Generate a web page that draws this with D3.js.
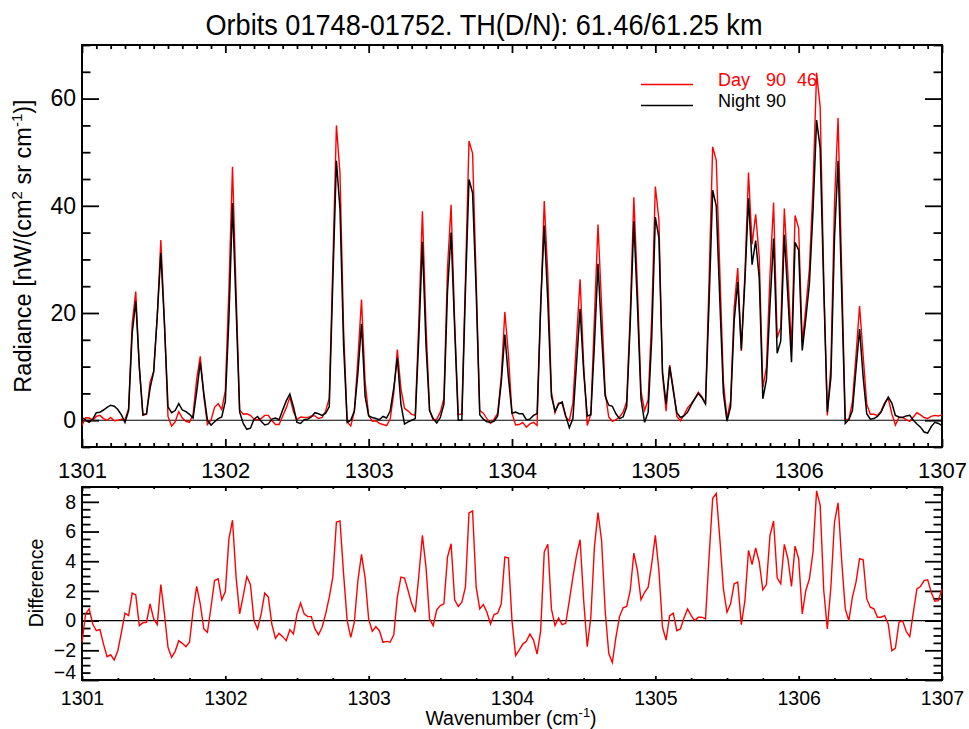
<!DOCTYPE html>
<html>
<head>
<meta charset="utf-8">
<script src="https://cdn.jsdelivr.net/npm/d3@7"></script>
<style>
  body { margin: 0; background: #fff; }
  svg text { font-family: "Liberation Sans", Arial, Helvetica, sans-serif; }
</style>
</head>
<body>
<svg id="chart" width="969" height="729"></svg>
<script>
// Spectral grid: samples every 0.025 cm-1 starting at 1301 cm-1
const waveStart = 1301;
const waveStep = 0.025;

// Day radiance, nW/(cm2 sr cm-1)
const dayRadiance = [
  -1.0, 0.45, 0.4, 0.0, 0.7, 0.9, 0.3, 0.0, 0.5, -0.1,
  0.0, 0.2, 0.1, 2.1, 18.0, 24.0, 9.7, 0.9, 1.1, 7.1,
  9.1, 19.2, 33.6, 18.5, 0.7, -1.1, -0.3, 1.6, 0.4, -0.2,
  -0.4, 1.1, 7.6, 11.9, 4.4, -0.8, 0.0, 2.4, 3.1, 2.0,
  5.5, 24.5, 47.3, 24.0, 1.9, 1.1, 1.2, 0.9, 0.2, 0.1,
  0.3, 0.9, 0.9, -0.1, -0.8, -0.8, 0.8, 2.3, 4.3, 1.6,
  0.1, 0.6, 0.5, 0.5, 0.8, 0.8, 0.3, 0.5, 1.7, 4.1,
  29.0, 55.0, 46.0, 17.0, -0.3, -1.1, 1.6, 11.5, 22.5, 7.2,
  0.9, -0.2, -0.1, -0.6, -0.8, -1.0, 0.2, 5.0, 13.2, 5.9,
  2.2, 1.7, 1.1, 0.9, 18.5, 39.0, 17.6, 1.9, 0.0, 0.2,
  1.5, 4.1, 28.3, 40.2, 18.4, 1.0, 1.2, 26.3, 52.1, 49.8,
  26.3, 1.8, 1.3, 0.3, -0.6, 0.2, 1.3, 8.1, 20.2, 12.2,
  1.3, -0.9, -0.8, -0.4, -1.3, -0.7, -0.4, -1.0, 20.8, 40.9,
  27.1, 5.3, 1.4, 3.2, 3.1, 0.6, -0.1, 3.2, 14.9, 26.3,
  10.4, -1.0, 1.2, 19.0, 36.5, 21.4, 5.2, 0.6, -0.2, 0.1,
  0.6, 1.5, 3.5, 20.0, 41.6, 24.9, 5.4, 1.8, 3.8, 19.3,
  43.6, 37.4, 8.5, 1.7, 10.3, 6.0, 0.7, -0.1, 1.0, 2.3,
  3.1, 4.0, 5.2, 4.4, 3.1, 26.3, 51.0, 48.5, 27.8, 7.1,
  0.3, 3.6, 21.0, 28.4, 12.9, 27.4, 46.2, 32.8, 38.4, 30.4,
  6.1, 9.9, 27.2, 40.6, 15.4, 17.3, 39.5, 27.2, 13.1, 38.2,
  35.8, 14.5, 21.0, 28.3, 43.6, 64.8, 58.5, 26.5, 0.9, 10.3,
  40.6, 56.4, 28.0, 0.2, 0.1, 3.4, 12.1, 21.3, 12.0, 3.0,
  1.1, 1.1, 0.9, 1.7, 3.3, 4.1, 1.2, -0.9, 0.5, 0.5,
  0.1, -0.2, 0.6, 1.4, 1.0, 0.5, 0.3, 0.7, 0.9, 0.8,
  1.0
];

// Night radiance, nW/(cm2 sr cm-1)
const nightRadiance = [
  0.5, 0.0, -0.4, 0.2, 1.4, 1.5, 1.9, 2.4, 2.8, 2.6,
  2.0, 1.0, -0.4, 1.8, 16.2, 22.2, 10.0, 1.0, 1.2, 6.0,
  9.0, 19.5, 31.2, 18.0, 2.5, 1.4, 1.8, 3.1, 1.9, 1.6,
  1.1, 0.4, 5.3, 10.8, 5.0, 0.0, -0.9, -0.3, 0.3, 0.6,
  3.5, 19.0, 40.5, 21.0, 1.5, -0.6, -1.7, -1.5, 0.2, 0.7,
  -0.2, -0.9, -0.7, 0.2, 0.4, 0.1, 1.9, 3.6, 4.9, 2.5,
  -0.4, -0.6, 0.1, 0.2, 0.6, 1.4, 1.2, 0.9, 1.3, 2.5,
  26.0, 48.4, 39.3, 14.0, -0.4, 0.0, 1.7, 8.8, 18.0, 4.5,
  0.8, 0.5, 0.3, 0.1, 0.7, 0.4, 1.7, 6.0, 11.6, 3.0,
  -0.7, -0.3, 0.0, 0.3, 15.5, 33.3, 14.0, 1.8, 0.3, -0.5,
  0.5, 3.0, 24.0, 35.0, 17.0, 0.0, 0.0, 24.0, 44.9, 42.4,
  24.0, 1.0, 0.2, -0.3, -0.4, -0.2, 0.8, 7.0, 16.0, 8.0,
  1.3, 1.5, 1.2, 1.2, 0.1, 0.2, 0.9, 1.2, 21.5, 36.3,
  22.0, 4.5, 1.7, 3.0, 3.4, 0.8, -1.4, 0.3, 10.5, 20.8,
  9.0, 0.8, 1.0, 14.0, 29.2, 16.0, 4.5, 2.8, 2.6, 1.2,
  0.3, 0.6, 2.5, 18.0, 37.1, 21.5, 4.0, -0.4, 1.5, 15.5,
  37.9, 34.0, 9.0, 3.0, 10.0, 5.5, 1.4, 0.5, 0.8, 1.5,
  2.8, 4.0, 5.0, 4.2, 3.0, 22.0, 42.9, 40.0, 22.3, 5.0,
  -0.2, 2.5, 18.5, 25.8, 13.2, 26.0, 41.4, 29.0, 33.5, 26.5,
  4.0, 7.5, 21.5, 33.9, 12.5, 14.8, 34.6, 23.0, 10.8, 33.2,
  31.7, 13.0, 19.0, 25.5, 39.0, 56.0, 50.8, 24.5, 1.5, 8.0,
  34.0, 48.4, 24.0, -0.6, 0.1, 1.8, 9.5, 17.0, 8.0, 1.2,
  0.2, 0.3, 0.7, 1.5, 3.0, 4.3, 3.2, 0.9, 0.6, 0.5,
  0.8, 0.9, 0.0, -0.7, -1.3, -2.2, -2.4, -1.2, -0.4, -0.6,
  -1.0
];

// Day minus night
const dayNightDifference = [
  -1.46, 0.45, 0.79, -0.23, -0.68, -0.6, -1.58, -2.43, -2.3, -2.66,
  -2.03, -0.79, 0.5, 0.34, 1.85, 1.73, -0.34, -0.14, -0.11, 1.13,
  0.11, -0.27, 2.43, 0.45, -1.8, -2.48, -2.07, -1.35, -1.53, -1.76,
  -1.46, 0.68, 2.3, 1.13, -0.56, -0.79, 0.9, 2.7, 2.82, 1.4,
  1.96, 5.5, 6.76, 2.93, 0.45, 1.69, 2.97, 2.43, 0.0, -0.56,
  0.45, 1.85, 1.58, -0.27, -1.19, -0.86, -1.08, -1.35, -0.61, -0.9,
  0.45, 1.19, 0.45, 0.27, 0.27, -0.56, -0.95, -0.45, 0.45, 1.58,
  2.93, 6.64, 6.71, 3.15, 0.0, -1.13, -0.11, 2.7, 4.46, 2.9,
  0.1, -0.72, -0.41, -0.68, -1.46, -1.4, -1.46, -0.95, 1.58, 2.93,
  2.86, 2.03, 1.13, 0.56, 3.04, 5.74, 3.6, 0.11, -0.34, 0.72,
  1.01, 1.13, 4.28, 5.18, 1.4, 0.95, 1.24, 2.25, 7.25, 7.39,
  2.25, 0.79, 1.08, 0.56, -0.23, 0.41, 0.5, 1.13, 4.28, 4.23,
  0.0, -2.36, -1.98, -1.58, -1.4, -0.9, -1.31, -2.25, -0.68, 4.62,
  5.14, 0.79, -0.34, 0.18, -0.27, -0.18, 1.35, 2.93, 4.39, 5.45,
  1.35, -1.76, 0.23, 4.95, 7.27, 5.41, 0.68, -2.2, -2.82, -1.13,
  0.27, 0.86, 0.95, 2.03, 4.55, 3.38, 1.4, 1.91, 2.25, 3.83,
  5.74, 3.38, -0.45, -1.31, 0.34, 0.5, -0.68, -0.56, 0.18, 0.79,
  0.34, 0.0, 0.23, 0.23, 0.11, 4.28, 8.22, 8.56, 5.52, 2.14,
  0.56, 1.13, 2.48, 2.59, -0.27, 1.35, 4.73, 3.78, 4.89, 3.94,
  2.07, 2.43, 5.74, 6.71, 2.88, 2.48, 5.14, 4.17, 2.3, 5.02,
  4.17, 0.45, 2.03, 2.82, 4.62, 8.74, 7.77, 2.03, -0.56, 2.3,
  6.64, 7.93, 4.05, 0.79, 0.0, 1.58, 2.59, 4.17, 4.1, 1.46,
  0.9, 0.79, 0.23, 0.23, 0.34, -0.23, -2.03, -1.85, -0.11, 0.0,
  -0.72, -1.08, 0.56, 2.14, 2.3, 2.7, 2.75, 1.91, 1.31, 1.35,
  2.14
];

// Axis ticks and labels
const waveTicks = [1301, 1302, 1303, 1304, 1305, 1306, 1307];
const radianceTicks = [0, 20, 40, 60];
const differenceTicks = [-4, -2, 0, 2, 4, 6, 8];
const titleText = "Orbits 01748-01752. TH(D/N): 61.46/61.25 km";
const legendEntries = [
  { label: "Day", values: ["90", "46"], color: "#ff0000" },
  { label: "Night", values: ["90"], color: "#000000" }
];

const svg = d3.select("#chart");
const left = 82, right = 942;
const top1 = 45, bottom1 = 447;
const top2 = 487, bottom2 = 680;

const x = d3.scaleLinear().domain([1301, 1307]).range([left, right]);
const yRad = d3.scaleLinear().domain([-5, 70]).range([bottom1, top1]);
const yDiff = d3.scaleLinear().domain([-4, 9]).range([bottom2, top2]);

const waveAt = i => waveStart + i * waveStep;

// Frame with major/minor ticks on all four sides
function drawFrame(yScale, top, bottom, opt) {
  const g = svg.append("g");
  const yLen = 17;
  const xLen = opt.xLen;
  const clean = sel => sel.call(s => s.select(".domain").remove());

  const xMinor = d3.range(0, Math.round(6 / opt.xMinorStep) + 1)
    .map(k => 1301 + k * opt.xMinorStep)
    .filter(v => Math.abs(v - Math.round(v)) > 1e-6);
  const yMinor = d3.range(0, Math.round((opt.yMax - opt.yMin) / opt.yMinorStep) + 1)
    .map(k => opt.yMin + k * opt.yMinorStep)
    .filter(v => !opt.yTicks.some(t => Math.abs(t - v) < 1e-6));

  // bottom axis (labelled)
  g.append("g").attr("transform", `translate(0,${bottom})`)
    .call(d3.axisBottom(x).tickValues(waveTicks).tickSizeInner(-xLen).tickSizeOuter(0)
      .tickPadding(opt.xPad).tickFormat(d3.format("d")))
    .call(clean)
    .call(s => s.selectAll("text").attr("font-size", opt.xFont).attr("fill", "#000"));
  g.append("g").attr("transform", `translate(0,${bottom})`)
    .call(d3.axisBottom(x).tickValues(xMinor).tickSizeInner(-xLen / 2).tickSizeOuter(0).tickFormat(""))
    .call(clean);
  // top axis
  g.append("g").attr("transform", `translate(0,${top})`)
    .call(d3.axisTop(x).tickValues(waveTicks).tickSizeInner(-xLen).tickSizeOuter(0).tickFormat(""))
    .call(clean);
  g.append("g").attr("transform", `translate(0,${top})`)
    .call(d3.axisTop(x).tickValues(xMinor).tickSizeInner(-xLen / 2).tickSizeOuter(0).tickFormat(""))
    .call(clean);
  // left axis (labelled); the lowest label is lifted to stay inside the frame
  g.append("g").attr("transform", `translate(${left},0)`)
    .call(d3.axisLeft(yScale).tickValues(opt.yTicks).tickSizeInner(-yLen).tickSizeOuter(0)
      .tickPadding(opt.yPad).tickFormat(d3.format("d")))
    .call(clean)
    .call(s => s.selectAll("text").attr("font-size", opt.yFont).attr("fill", "#000")
      .attr("y", d => (d === opt.yMin ? -opt.edgeLift : 0)));
  g.append("g").attr("transform", `translate(${left},0)`)
    .call(d3.axisLeft(yScale).tickValues(yMinor).tickSizeInner(-yLen / 2).tickSizeOuter(0).tickFormat(""))
    .call(clean);
  // right axis
  g.append("g").attr("transform", `translate(${right},0)`)
    .call(d3.axisRight(yScale).tickValues(opt.yTicks).tickSizeInner(-yLen).tickSizeOuter(0).tickFormat(""))
    .call(clean);
  g.append("g").attr("transform", `translate(${right},0)`)
    .call(d3.axisRight(yScale).tickValues(yMinor).tickSizeInner(-yLen / 2).tickSizeOuter(0).tickFormat(""))
    .call(clean);

  g.selectAll(".tick line").attr("stroke", "#000").attr("stroke-width", 1.8);

  // zero reference line
  g.append("line")
    .attr("x1", left).attr("x2", right)
    .attr("y1", yScale(0)).attr("y2", yScale(0))
    .attr("stroke", "#000").attr("stroke-width", 1.1);

  g.append("rect")
    .attr("x", left).attr("y", top)
    .attr("width", right - left).attr("height", bottom - top)
    .attr("fill", "none").attr("stroke", "#000").attr("stroke-width", 2);
  return g;
}

drawFrame(yRad, top1, bottom1, {
  xLen: 8, xMinorStep: 0.1, xPad: 15, xFont: 22,
  yTicks: radianceTicks, yMin: -5, yMax: 70, yMinorStep: 5, yPad: 6, yFont: 23, edgeLift: 0
});
drawFrame(yDiff, top2, bottom2, {
  xLen: 4, xMinorStep: 0.25, xPad: 11, xFont: 19.5,
  yTicks: differenceTicks, yMin: -4, yMax: 9, yMinorStep: 0.5, yPad: 6, yFont: 19.5, edgeLift: 8
});

// Spectra
const radLine = d3.line().x((d, i) => x(waveAt(i))).y(d => yRad(d));
const diffLine = d3.line().x((d, i) => x(waveAt(i))).y(d => yDiff(d));

svg.append("path").datum(dayRadiance)
  .attr("d", radLine).attr("fill", "none")
  .attr("stroke", "#ff0000").attr("stroke-width", 1.4).attr("stroke-linejoin", "miter");
svg.append("path").datum(nightRadiance)
  .attr("d", radLine).attr("fill", "none")
  .attr("stroke", "#000").attr("stroke-width", 1.5).attr("stroke-linejoin", "miter");
svg.append("path").datum(dayNightDifference)
  .attr("d", diffLine).attr("fill", "none")
  .attr("stroke", "#ff0000").attr("stroke-width", 1.4).attr("stroke-linejoin", "miter");

// Title
svg.append("text")
  .attr("x", 484).attr("y", 35)
  .attr("text-anchor", "middle")
  .attr("font-size", 29)
  .attr("textLength", 557).attr("lengthAdjust", "spacingAndGlyphs")
  .attr("fill", "#000")
  .text(titleText);

// Y axis titles
const radTitle = svg.append("text")
  .attr("transform", `translate(31,246) rotate(-90)`)
  .attr("text-anchor", "middle")
  .attr("font-size", 23.5)
  .attr("fill", "#000");
radTitle.append("tspan").text("Radiance [nW/(cm");
radTitle.append("tspan").attr("dy", -9).attr("font-size", 15).text("2");
radTitle.append("tspan").attr("dy", 9).text(" sr cm");
radTitle.append("tspan").attr("dy", -9).attr("font-size", 15).text("-1");
radTitle.append("tspan").attr("dy", 9).text(")]");

svg.append("text")
  .attr("transform", `translate(43,583) rotate(-90)`)
  .attr("text-anchor", "middle")
  .attr("font-size", 19.5)
  .attr("fill", "#000")
  .text("Difference");

// X axis title
const xTitle = svg.append("text")
  .attr("x", 511).attr("y", 725)
  .attr("text-anchor", "middle")
  .attr("font-size", 19.5)
  .attr("fill", "#000");
xTitle.append("tspan").text("Wavenumber (cm");
xTitle.append("tspan").attr("dy", -8).attr("font-size", 13).text("-1");
xTitle.append("tspan").attr("dy", 8).text(")");

// Legend
const legend = svg.append("g");
const legendRows = [85, 106];
const valueCols = [766, 797];
legendEntries.forEach((e, k) => {
  const yy = legendRows[k];
  legend.append("line")
    .attr("x1", 641).attr("x2", 693)
    .attr("y1", yy - 0.5).attr("y2", yy - 0.5)
    .attr("stroke", e.color).attr("stroke-width", 1.4);
  legend.append("text")
    .attr("x", 718).attr("y", yy + 0.5)
    .attr("font-size", 18).attr("fill", e.color)
    .text(e.label);
  e.values.forEach((v, j) => {
    legend.append("text")
      .attr("x", valueCols[j]).attr("y", yy + 0.5)
      .attr("font-size", 18).attr("fill", e.color)
      .text(v);
  });
});
</script>
</body>
</html>
